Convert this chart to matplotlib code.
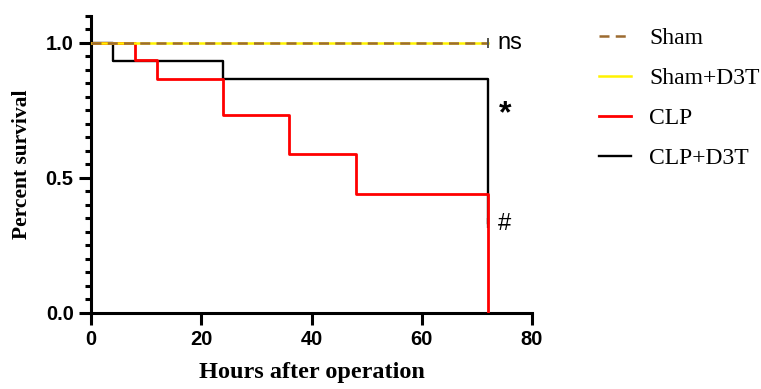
import matplotlib
matplotlib.use("Agg")
import matplotlib.pyplot as plt
from matplotlib.ticker import MultipleLocator

# survival data (Kaplan-Meier steps)
sham_t = [0, 72]
sham_s = [1.0, 1.0]
shamd3t_t = [0, 72]
shamd3t_s = [1.0, 1.0]
clp_t = [0, 8, 12, 24, 36, 48, 72]
clp_s = [1.0, 0.9375, 0.867, 0.733, 0.587, 0.44, 0.0]
clpd3t_t = [0, 4, 24, 72]
clpd3t_s = [1.0, 0.933, 0.867, 0.333]

labels = ["Sham", "Sham+D3T", "CLP", "CLP+D3T"]
marks = ["ns", "*", "#"]
mark_y = [1.0, 0.735, 0.33]

brown = "#9C6B30"
yellow = "#FFF200"
red = "#FF0000"
black = "#000000"

fig = plt.figure(figsize=(7.61, 3.89), dpi=100)
ax = fig.add_axes([0.1196, 0.1954, 0.5795, 0.7635])

l4, = ax.step(clpd3t_t, clpd3t_s, where="post", color=black, lw=1.7, zorder=2)
ax.plot([clpd3t_t[-1]], [clpd3t_s[-1]], marker="|", ms=7, mew=1.6, color=black, zorder=2)
l3, = ax.step(clp_t, clp_s, where="post", color=red, lw=2.0, zorder=3)
l2, = ax.step(shamd3t_t, shamd3t_s, where="post", color=yellow, lw=1.8, zorder=4)
ax.plot([shamd3t_t[-1]], [shamd3t_s[-1]], marker="|", ms=7, mew=1.4, color=yellow, zorder=4)
l1, = ax.step(sham_t, sham_s, where="post", color=brown, lw=1.8, zorder=5,
              dashes=(4, 2.5))
ax.plot([sham_t[-1]], [sham_s[-1]], marker="|", ms=7, mew=1.4, color="#555555", zorder=5)

# significance marks
ax.text(73.8, mark_y[0], marks[0], fontsize=17, family="Liberation Sans",
        va="center", ha="left")
ax.text(74.0, mark_y[1], marks[1], fontsize=23, family="Liberation Sans",
        fontweight="bold", va="center", ha="left")
ax.text(73.8, mark_y[2], marks[2], fontsize=17, family="Liberation Sans",
        va="center", ha="left")

ax.set_xlim(0, 80)
ax.set_ylim(0, 1.1)
ax.set_xticks([0, 20, 40, 60, 80])
ax.set_yticks([0.0, 0.5, 1.0])
ax.yaxis.set_minor_locator(MultipleLocator(0.05))
ax.set_yticklabels(["0.0", "0.5", "1.0"])

for side in ["top", "right"]:
    ax.spines[side].set_visible(False)
for side in ["left", "bottom"]:
    ax.spines[side].set_linewidth(2.2)
ax.tick_params(axis="both", which="major", width=2.2, length=8.5, pad=4)
ax.tick_params(axis="y", which="minor", width=2.2, length=4.5)
for lab in ax.get_xticklabels() + ax.get_yticklabels():
    lab.set_family("Liberation Sans")
    lab.set_fontweight("bold")
    lab.set_fontsize(14.5)

ax.set_xlabel("Hours after operation", family="Liberation Serif", fontweight="bold",
              fontsize=17.5, labelpad=9)
ax.set_ylabel("Percent survival", family="Liberation Serif", fontweight="bold",
              fontsize=15.5, labelpad=10)

fig.legend([l1, l2, l3, l4], labels, loc="upper left", bbox_to_anchor=(0.759, 0.983),
           frameon=False, prop={"family": "Liberation Serif", "size": 17},
           handlelength=1.36, labelspacing=0.78, handletextpad=0.76)

fig.savefig("out.png", dpi=100)
